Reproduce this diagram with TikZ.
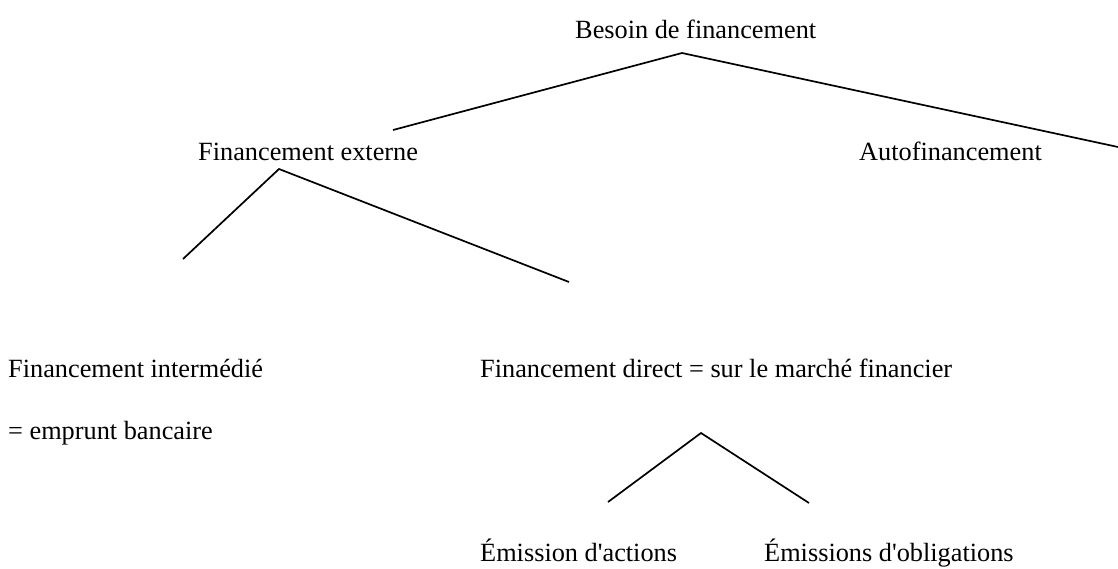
\documentclass[tikz,border=0pt]{standalone}
\usepackage{fontspec}
\newfontfamily\tnr{Liberation Serif}
\begin{document}
\begin{tikzpicture}[x=1pt,y=-1pt,
  lbl/.style={anchor=base west,inner sep=0pt,font=\tnr\fontsize{26.3}{30}\selectfont},
  branch/.style={line width=1.7pt,black}]
\useasboundingbox (0,0) rectangle (1118,568);
% texts
\node[lbl] (besoin) at (575,38) {Besoin de financement};
\node[lbl] (externe) at (198,160) {Financement externe};
\node[lbl] (auto) at (859,160) {Autofinancement};
\node[lbl] (inter) at (8,377) {Financement intermédié};
\node[lbl] (emprunt) at (8,439) {= emprunt bancaire};
\node[lbl] (direct) at (480,377) {Financement direct = sur le marché financier};
\node[lbl] (actions) at (480,561) {Émission d'actions};
\node[lbl] (oblig) at (764,561) {Émissions d'obligations};
% fork points
\coordinate (top) at (682,53);
\coordinate (topL) at (393,130);
\coordinate (topR) at (1118,147);
\coordinate (ext) at (279,169);
\coordinate (extL) at (183,259);
\coordinate (extR) at (569,282);
\coordinate (dir) at (701,433);
\coordinate (dirL) at (608,502);
\coordinate (dirR) at (809,503);
% connectors
\draw[branch] (topL) -- (top) -- (topR);
\draw[branch] (extL) -- (ext) -- (extR);
\draw[branch] (dirL) -- (dir) -- (dirR);
\end{tikzpicture}
\end{document}
